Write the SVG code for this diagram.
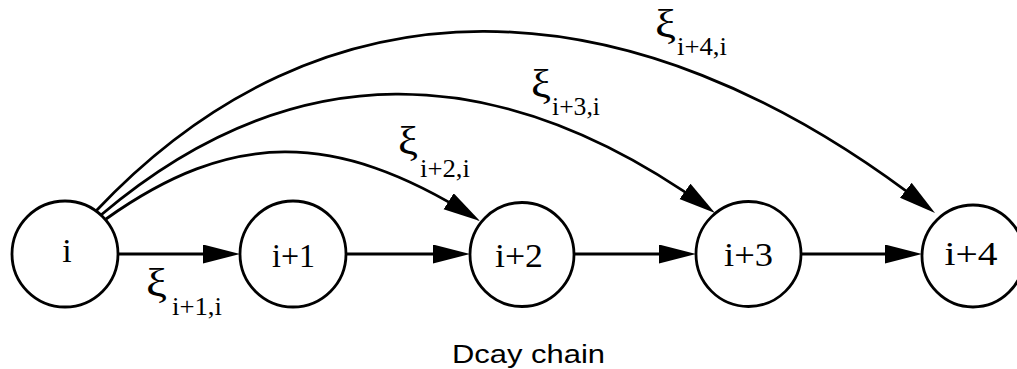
<svg xmlns="http://www.w3.org/2000/svg" width="1017" height="369" viewBox="0 0 1017 369">
<style>
.node{fill:#fff;stroke:#000;stroke-width:2.8}
.nl{font-family:"Liberation Serif","Times New Roman",serif;font-size:34px;fill:#000;text-anchor:middle}
.edge{fill:none;stroke:#000;stroke-width:2.8}
.xi{font-family:"Liberation Serif","Times New Roman",serif;font-size:40px;fill:#000}
.sub{font-family:"Liberation Serif","Times New Roman",serif;font-size:26px;fill:#000}
.cap{font-family:"Liberation Sans",Arial,sans-serif;font-size:26px;fill:#000}
</style>
<defs>
<marker id="ah" markerUnits="userSpaceOnUse" markerWidth="40" markerHeight="22" refX="29" refY="9.5" orient="auto">
<path d="M0,0 L37,9.5 L0,19 z" fill="#000"/>
</marker>
</defs>
<rect width="1017" height="369" fill="#fff"/>
<g id="connectors">
<line class="edge" x1="119" y1="254" x2="232" y2="254" marker-end="url(#ah)"/>
<line class="edge" x1="346" y1="254" x2="462" y2="254" marker-end="url(#ah)"/>
<line class="edge" x1="575" y1="254" x2="688" y2="254" marker-end="url(#ah)"/>
<line class="edge" x1="801" y1="254" x2="914" y2="254" marker-end="url(#ah)"/>
<path class="edge" d="M106,219 C231,130 335,130 473.2,216.7" marker-end="url(#ah)"/>
<path class="edge" d="M101,215 C290,55 495,55 708.5,208.3" marker-end="url(#ah)"/>
<path class="edge" d="M96,211 C321,-28 625,-28 928.7,208.1" marker-end="url(#ah)"/>
</g>
<g id="labels">
<g id="lbl-1"><text class="xi" x="146" y="296" textLength="21" lengthAdjust="spacingAndGlyphs">ξ</text><text class="sub" x="172" y="315" textLength="50" lengthAdjust="spacingAndGlyphs">i+1,i</text></g>
<g id="lbl-2"><text class="xi" x="398" y="154" textLength="20" lengthAdjust="spacingAndGlyphs">ξ</text><text class="sub" x="420" y="177" textLength="50" lengthAdjust="spacingAndGlyphs">i+2,i</text></g>
<g id="lbl-3"><text class="xi" x="531" y="97" textLength="20" lengthAdjust="spacingAndGlyphs">ξ</text><text class="sub" x="552" y="115" textLength="48" lengthAdjust="spacingAndGlyphs">i+3,i</text></g>
<g id="lbl-4"><text class="xi" x="655" y="37" textLength="21" lengthAdjust="spacingAndGlyphs">ξ</text><text class="sub" x="677" y="55" textLength="50" lengthAdjust="spacingAndGlyphs">i+4,i</text></g>
</g>
<g id="node-i"><circle class="node" cx="65" cy="254" r="53"/><text class="nl" x="67" y="262">i</text></g>
<g id="node-i1"><circle class="node" cx="293" cy="254" r="53"/><text class="nl" x="293.5" y="267" textLength="43" lengthAdjust="spacingAndGlyphs">i+1</text></g>
<g id="node-i2"><circle class="node" cx="522" cy="254.5" r="52"/><text class="nl" x="519" y="267" textLength="48" lengthAdjust="spacingAndGlyphs">i+2</text></g>
<g id="node-i3"><circle class="node" cx="748.5" cy="254" r="52.5"/><text class="nl" x="748.5" y="266" textLength="49" lengthAdjust="spacingAndGlyphs">i+3</text></g>
<g id="node-i4"><circle class="node" cx="973" cy="256" r="51"/><text class="nl" x="971" y="265" textLength="53" lengthAdjust="spacingAndGlyphs">i+4</text></g>
<text class="cap" x="452" y="363" textLength="153" lengthAdjust="spacingAndGlyphs">Dcay chain</text>
</svg>
